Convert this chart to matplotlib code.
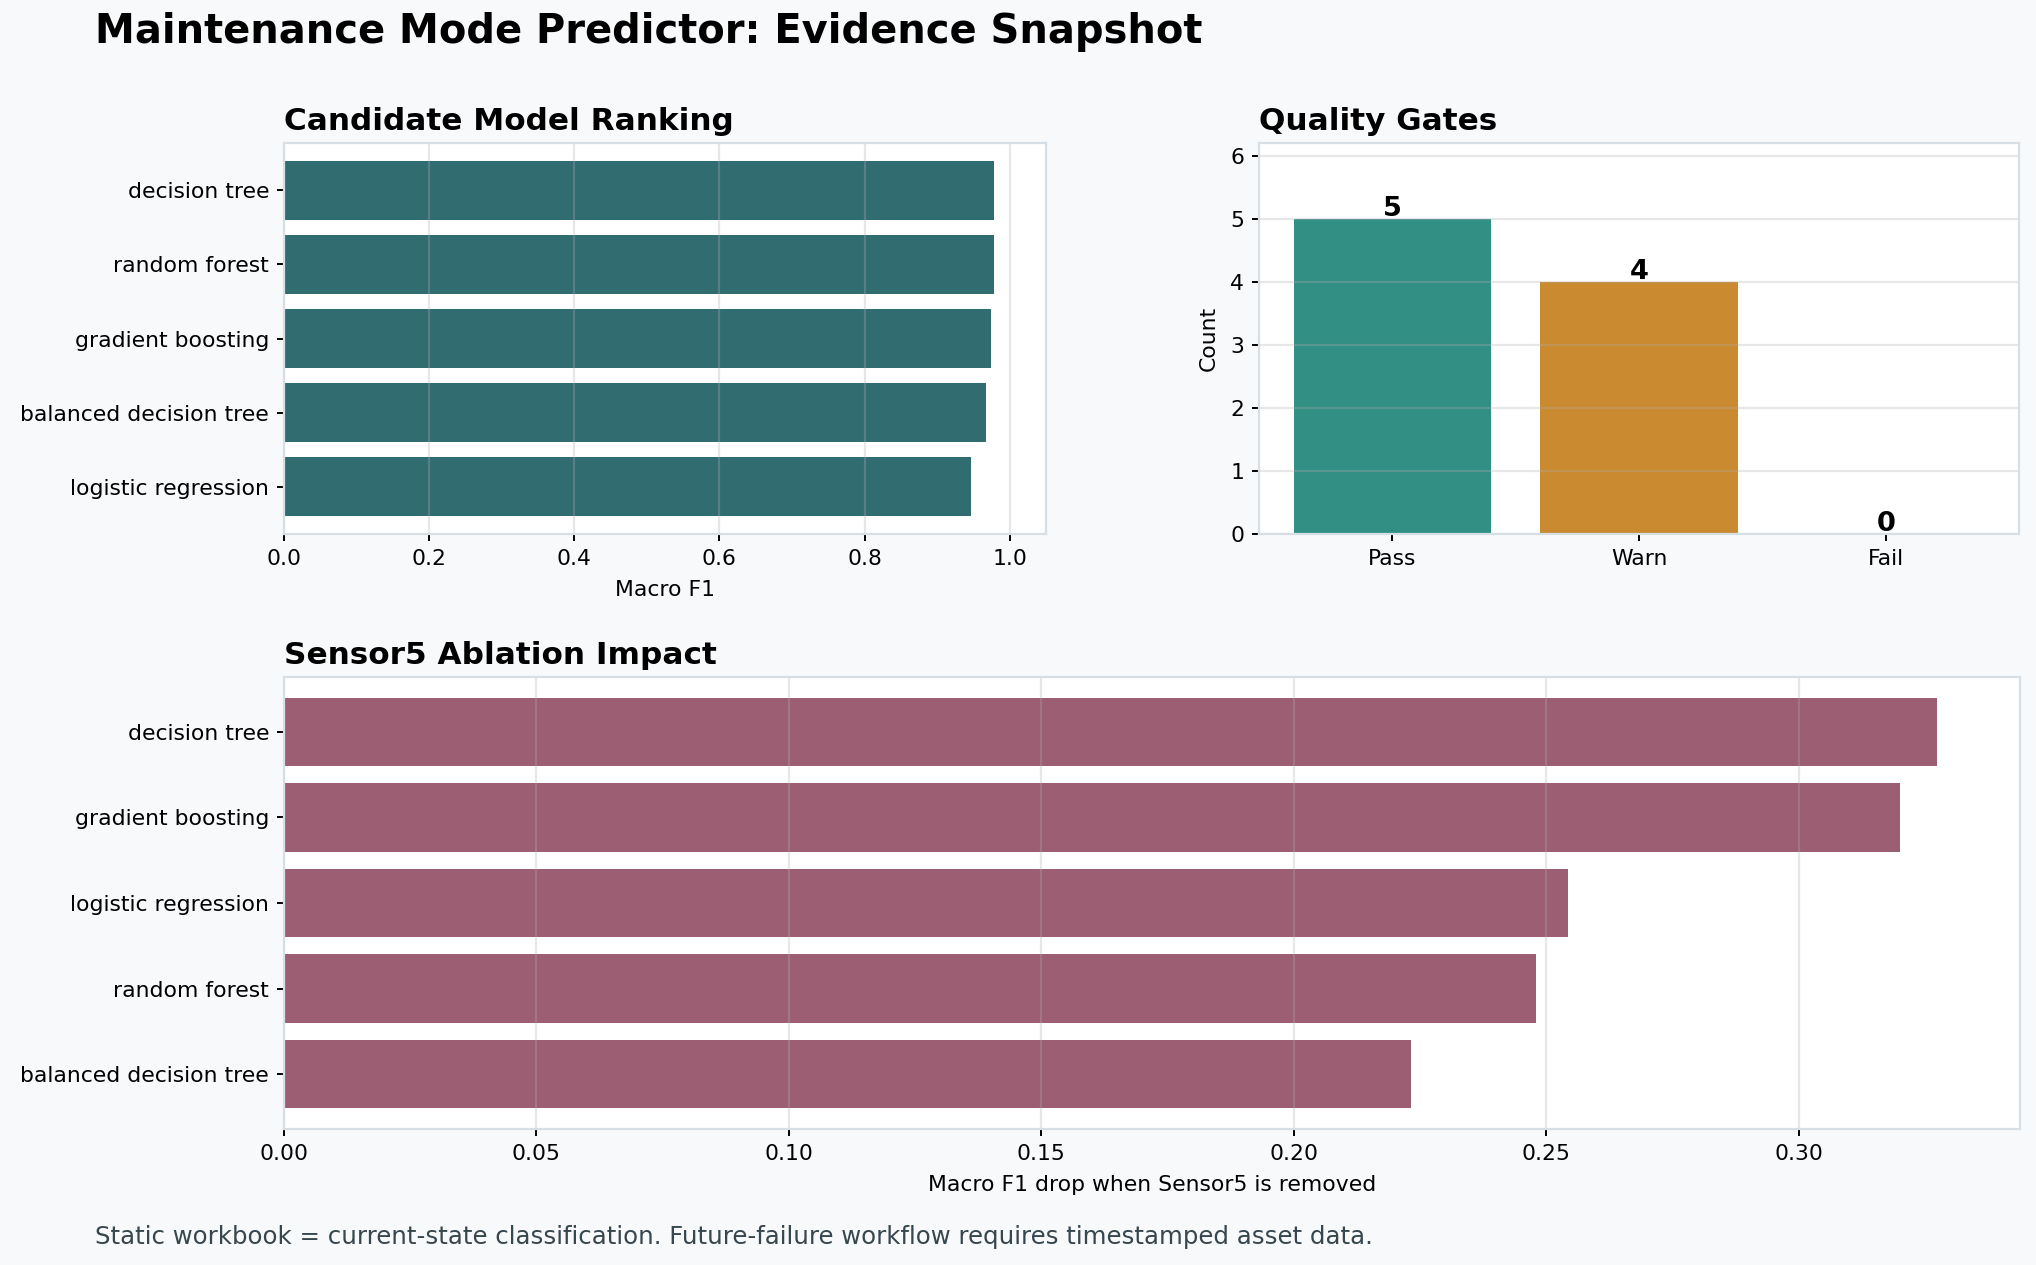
import numpy as np
import matplotlib.pyplot as plt

# model ranking (sorted best first)
rank_models = ["decision tree", "random forest", "gradient boosting",
               "balanced decision tree", "logistic regression"]
rank_f1 = [0.978, 0.978, 0.974, 0.967, 0.946]

# quality gates
gate_names = ["Pass", "Warn", "Fail"]
gate_counts = [5, 4, 0]

# sensor5 ablation
abl_models = ["decision tree", "gradient boosting", "logistic regression",
              "random forest", "balanced decision tree"]
abl_drop = [0.3275, 0.3202, 0.2543, 0.2480, 0.2233]

BG = "#f8f9fb"
SPINE = "#d6dee6"
TICK_FS = 7.9
TITLE_FS = 11.2

W, H = 2036, 1265
fig = plt.figure(figsize=(W / 200, H / 200), dpi=200, facecolor=BG)


def box(l, t, r, b):
    return [l / W, 1 - b / H, (r - l) / W, (b - t) / H]


def style(ax):
    ax.set_facecolor("white")
    for s in ax.spines.values():
        s.set_color(SPINE)
    ax.tick_params(labelsize=TICK_FS, length=2.4, pad=3.0, width=0.7)


ax1 = fig.add_axes(box(284, 143, 1046, 534))
ax2 = fig.add_axes(box(1259, 143, 2019, 534))
ax3 = fig.add_axes(box(284, 677, 2020, 1129))

# Candidate Model Ranking
y = np.arange(len(rank_models))
ax1.barh(y, rank_f1, color="#316c71", height=0.8)
ax1.set_yticks(y, rank_models)
ax1.invert_yaxis()
ax1.set_xlim(0, 1.05)
ax1.set_xlabel("Macro F1", fontsize=TICK_FS)
ax1.grid(axis="x", alpha=0.3)
ax1.set_title("Candidate Model Ranking", loc="left", fontsize=TITLE_FS,
              fontweight="bold", pad=4.5)
style(ax1)

# Quality Gates
x = np.arange(len(gate_names))
ax2.bar(x, gate_counts, color=["#318f84", "#ca8a2f", "#b5433d"], width=0.8)
ax2.set_xticks(x, gate_names)
ax2.set_ylim(0, 6.2)
ax2.set_ylabel("Count", fontsize=TICK_FS)
ax2.grid(axis="y", alpha=0.3)
for i, v in enumerate(gate_counts):
    ax2.text(i, v + 0.05, str(v), ha="center", va="baseline",
             fontsize=9.8, fontweight="bold")
ax2.set_title("Quality Gates", loc="left", fontsize=TITLE_FS,
              fontweight="bold", pad=4.5)
style(ax2)

# Sensor5 Ablation Impact
y = np.arange(len(abl_models))
ax3.barh(y, abl_drop, color="#9c5e72", height=0.8)
ax3.set_yticks(y, abl_models)
ax3.invert_yaxis()
ax3.set_xlabel("Macro F1 drop when Sensor5 is removed", fontsize=TICK_FS)
ax3.grid(axis="x", alpha=0.3)
ax3.set_title("Sensor5 Ablation Impact", loc="left", fontsize=TITLE_FS,
              fontweight="bold", pad=4.5)
style(ax3)

fig.text(95 / W, 1 - 12 / H, "Maintenance Mode Predictor: Evidence Snapshot",
         fontsize=14.4, fontweight="bold", ha="left", va="top")
fig.text(95 / W, 1 - 1237 / H,
         "Static workbook = current-state classification. Future-failure workflow requires timestamped asset data.",
         fontsize=8.8, color="#37474f", ha="left", va="center")

fig.savefig("out.png", dpi=200, facecolor=BG)
